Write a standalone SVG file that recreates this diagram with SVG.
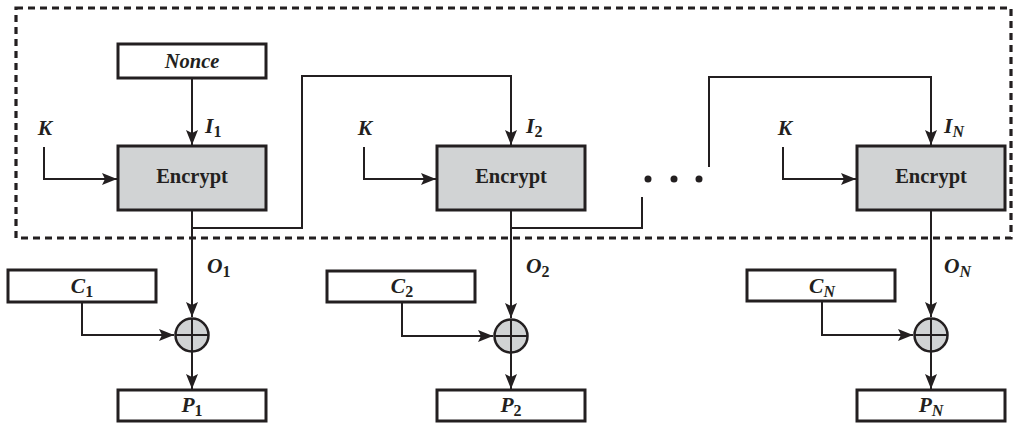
<svg xmlns="http://www.w3.org/2000/svg" width="1015" height="423" viewBox="0 0 1015 423">
<defs>
<style>
.box{fill:#fff;stroke:#231f20;stroke-width:3}
.enc{fill:#d1d3d4;stroke:#231f20;stroke-width:3}
.xor{fill:#d1d3d4;stroke:#231f20;stroke-width:2.5}
.ln{fill:none;stroke:#231f20;stroke-width:2}
.arr{fill:none;stroke:#231f20;stroke-width:2;marker-end:url(#ah)}
.dash{fill:none;stroke:#231f20;stroke-width:3.2;stroke-dasharray:7 5}
.t{font-weight:bold;font-size:20.5px;fill:#231f20}
.ti{font-weight:bold;font-style:italic;font-size:21.5px;fill:#231f20}
.sub{font-style:normal;font-size:16px}
.subi{font-style:italic;font-size:16px}
</style>
<marker id="ah" markerUnits="userSpaceOnUse" markerWidth="16" markerHeight="12" refX="15" refY="6" orient="auto">
<path d="M0,0 L15,6 L0,12 L3,6 z" fill="#231f20"/>
</marker>
</defs>
<rect class="dash" x="16" y="8" width="995" height="230"/>
<g id="connectors">
<line class="arr" x1="192" y1="78" x2="192" y2="145"/>
<polyline class="arr" points="44,147 44,179 117,179"/>
<polyline class="arr" points="364,147 364,179 436,179"/>
<polyline class="arr" points="783,147 783,179 856,179"/>
<polyline class="arr" points="192,228 302,228 302,76 511,76 511,145"/>
<polyline class="ln" points="511,228 642,228 642,197"/>
<polyline class="arr" points="709,167 709,77 931,77 931,145"/>
<line class="arr" x1="192" y1="211" x2="192" y2="317"/>
<line class="arr" x1="511" y1="211" x2="511" y2="318"/>
<line class="arr" x1="931" y1="211" x2="931" y2="317"/>
<polyline class="arr" points="82,302 82,335 174,335"/>
<polyline class="arr" points="402,302 402,336 493,336"/>
<polyline class="arr" points="822,301 822,335 913,335"/>
<line class="arr" x1="192" y1="352" x2="192" y2="389"/>
<line class="arr" x1="511" y1="353" x2="511" y2="389"/>
<line class="arr" x1="931" y1="352" x2="931" y2="389"/>
</g>
<g id="dots" fill="#231f20">
<circle cx="648" cy="179" r="3.5"/>
<circle cx="674" cy="179" r="3.5"/>
<circle cx="699" cy="179" r="3.5"/>
</g>
<g id="nonce"><rect class="box" x="118" y="44" width="148" height="34"/><text class="t" font-style="italic" font-family="Liberation Serif, serif" x="192" y="68" text-anchor="middle">Nonce</text></g>
<g id="k1"><text class="ti" font-family="Liberation Serif, serif" x="45" y="135" text-anchor="middle">K</text></g>
<g id="k2"><text class="ti" font-family="Liberation Serif, serif" x="365" y="135" text-anchor="middle">K</text></g>
<g id="kn"><text class="ti" font-family="Liberation Serif, serif" x="785" y="135" text-anchor="middle">K</text></g>
<g id="i1"><text class="ti" font-family="Liberation Serif, serif" x="205" y="133">I<tspan class="sub" dy="4">1</tspan></text></g>
<g id="i2"><text class="ti" font-family="Liberation Serif, serif" x="526" y="133">I<tspan class="sub" dy="4">2</tspan></text></g>
<g id="in"><text class="ti" font-family="Liberation Serif, serif" x="944" y="133">I<tspan class="subi" dy="4">N</tspan></text></g>
<g id="enc1"><rect class="enc" x="118" y="146" width="148" height="64"/><text class="t" font-family="Liberation Serif, serif" x="192" y="183" text-anchor="middle">Encrypt</text></g>
<g id="enc2"><rect class="enc" x="437" y="146" width="148" height="64"/><text class="t" font-family="Liberation Serif, serif" x="511" y="183" text-anchor="middle">Encrypt</text></g>
<g id="encn"><rect class="enc" x="857" y="146" width="148" height="64"/><text class="t" font-family="Liberation Serif, serif" x="931" y="183" text-anchor="middle">Encrypt</text></g>
<g id="o1"><text class="ti" font-family="Liberation Serif, serif" x="207" y="273">O<tspan class="sub" dy="4">1</tspan></text></g>
<g id="o2"><text class="ti" font-family="Liberation Serif, serif" x="526" y="273">O<tspan class="sub" dy="4">2</tspan></text></g>
<g id="on"><text class="ti" font-family="Liberation Serif, serif" x="944" y="273">O<tspan class="subi" dy="4">N</tspan></text></g>
<g id="c1"><rect class="box" x="8" y="270" width="148" height="32"/><text class="ti" font-family="Liberation Serif, serif" x="82" y="293" text-anchor="middle">C<tspan class="sub" dy="4">1</tspan></text></g>
<g id="c2"><rect class="box" x="327" y="271" width="148" height="31"/><text class="ti" font-family="Liberation Serif, serif" x="402" y="293" text-anchor="middle">C<tspan class="sub" dy="4">2</tspan></text></g>
<g id="cn"><rect class="box" x="747" y="270" width="148" height="31"/><text class="ti" font-family="Liberation Serif, serif" x="822" y="293" text-anchor="middle">C<tspan class="subi" dy="4">N</tspan></text></g>
<g id="x1"><circle class="xor" cx="192" cy="335" r="16.5"/><path class="ln" d="M175.5,335 H208.5 M192,318.5 V351.5"/></g>
<g id="x2"><circle class="xor" cx="511" cy="336" r="16.5"/><path class="ln" d="M494.5,336 H527.5 M511,319.5 V352.5"/></g>
<g id="xn"><circle class="xor" cx="931" cy="335" r="16.5"/><path class="ln" d="M914.5,335 H947.5 M931,318.5 V351.5"/></g>
<g id="p1"><rect class="box" x="118" y="390" width="148" height="31"/><text class="ti" font-family="Liberation Serif, serif" x="192" y="412" text-anchor="middle">P<tspan class="sub" dy="4">1</tspan></text></g>
<g id="p2"><rect class="box" x="437" y="390" width="148" height="31"/><text class="ti" font-family="Liberation Serif, serif" x="511" y="412" text-anchor="middle">P<tspan class="sub" dy="4">2</tspan></text></g>
<g id="pn"><rect class="box" x="857" y="390" width="148" height="31"/><text class="ti" font-family="Liberation Serif, serif" x="931" y="412" text-anchor="middle">P<tspan class="subi" dy="4">N</tspan></text></g>
</svg>
